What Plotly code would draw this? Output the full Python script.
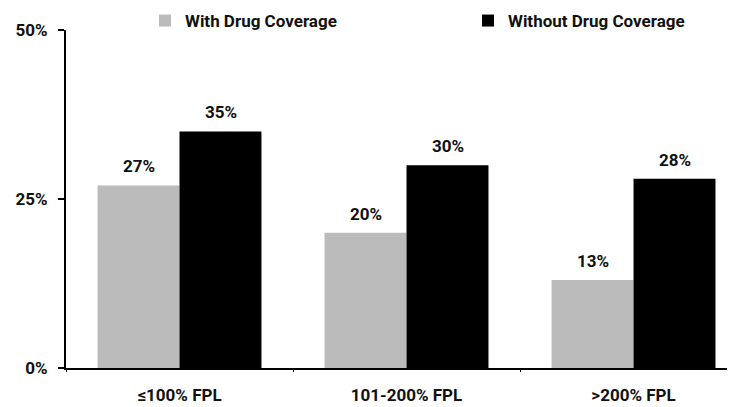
import plotly.graph_objects as go

categories = ["≤100% FPL", "101-200% FPL", ">200% FPL"]
with_cov = [27, 20, 13]
without_cov = [35, 30, 28]
series_names = ["With Drug Coverage", "Without Drug Coverage"]
series_colors = ["#BBBBBB", "#000000"]
tick_vals = [0, 25, 50]
tick_text = ["0%", "25%", "50%"]

FONT = "Roboto"
TXT = "#111111"
W, H = 727, 399  # page body has an 8px default margin
T, B = 22, 39
PH = H - T - B

fig = go.Figure()
for vals, name, col in zip((with_cov, without_cov), series_names, series_colors):
    fig.add_trace(go.Bar(x=categories, y=vals, name=name, showlegend=False,
                         marker=dict(color=col, line=dict(width=0))))
# legend entries with larger square swatches
for name, col in zip(series_names, series_colors):
    fig.add_trace(go.Scatter(x=[None], y=[None], mode="markers", name=name,
                             marker=dict(symbol="square", size=17, color=col)))

for i, c in enumerate(categories):
    for vals, shift in ((with_cov, -41), (without_cov, 41)):
        fig.add_annotation(x=c, y=vals[i], xshift=shift, yshift=7,
                           text=f"{vals[i]}%", showarrow=False, yanchor="bottom",
                           font=dict(family=FONT, size=17, color=TXT, weight="bold"))

fig.update_layout(
    template="none",
    width=W, height=H,
    margin=dict(l=58, r=0, t=T, b=B, autoexpand=False),
    paper_bgcolor="white", plot_bgcolor="white",
    barmode="group", bargap=0.278, bargroupgap=0,
    font=dict(family=FONT, size=17, color=TXT, weight="bold"),
    showlegend=True,
    legend=dict(orientation="h", xref="container", yref="paper",
                x=137 / W, y=1 + (T + 5) / PH, xanchor="left", yanchor="top",
                entrywidth=278, entrywidthmode="pixels", itemsizing="constant",
                font=dict(family=FONT, size=17, color=TXT, weight="bold"),
                bgcolor="rgba(0,0,0,0)", borderwidth=0),
    xaxis=dict(range=[-0.5, 2.447], showline=True, linecolor="black", linewidth=2,
               ticks="outside", tickson="boundaries", ticklen=2, tickcolor="black",
               showgrid=False, zeroline=False, fixedrange=True, automargin=False,
               ticklabelstandoff=11,
               tickfont=dict(family=FONT, size=17, color=TXT, weight="bold")),
    yaxis=dict(range=[0, 50], showline=True, linecolor="black", linewidth=2,
               ticks="outside", ticklen=6, tickcolor="black", tickwidth=2,
               tickvals=tick_vals, ticktext=tick_text, showgrid=False, zeroline=False,
               ticklabelstandoff=7, automargin=False,
               tickfont=dict(family=FONT, size=17, color=TXT, weight="bold")),
)

fig.write_html("out.html")
